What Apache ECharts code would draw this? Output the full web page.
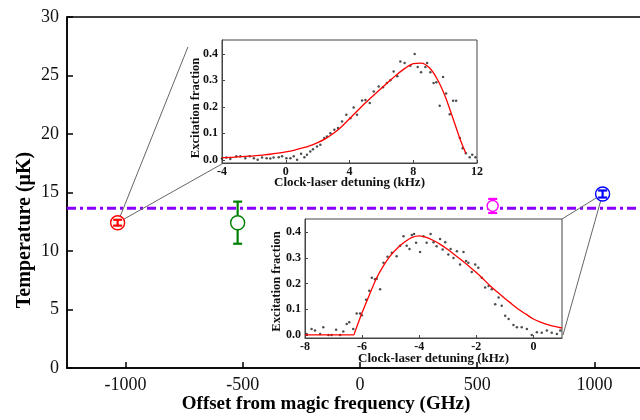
<!DOCTYPE html>
<html>
<head>
<meta charset="utf-8">
<script src="https://cdn.jsdelivr.net/npm/echarts@6/dist/echarts.min.js"></script>
<style>
  html, body { margin: 0; padding: 0; background: #fff; }
  #chart { width: 640px; height: 420px; }
</style>
</head>
<body>
<div id="chart"></div>
<script>
// main panel: temperature vs offset from magic frequency
const offsets = [-1034, -522, 566, 1035];
const temps = [12.42, 12.42, 13.85, 14.87];
const tempErrs = [0.25, 1.8, 0.6, 0.3];
const meanTemp = 13.65;
const xTickValues = [-1000, -500, 0, 500, 1000];

// ends of the zoom lines, in main-axis units
const zoomLinesA = [[-734, 27.44], [-1034, 12.42], [-589, 17.44]];
const zoomLinesB = [[862, 12.74], [1035, 14.87], [866, 2.82]];

// inset A (red point): spectrum and fit
const specAX = [-4.0, -3.73, -3.48, -3.1, -2.85, -2.54, -2.26, -2.0, -1.76, -1.49, -1.2, -0.97, -0.76, -0.44, -0.23, 0.04, 0.29, 0.5, 0.71, 0.96, 1.17, 1.33, 1.54, 1.71, 1.96, 2.17, 2.42, 2.59, 2.8, 3.05, 3.28, 3.53, 3.8, 4.05, 4.26, 4.47, 4.79, 5.0, 5.27, 5.52, 5.83, 6.1, 6.35, 6.56, 6.77, 7.0, 7.19, 7.46, 7.82, 8.09, 8.28, 8.49, 8.76, 8.87, 9.07, 9.28, 9.45, 9.66, 9.87, 10.06, 10.29, 10.5, 10.69, 10.92, 11.1, 11.3, 11.54, 11.7, 11.9];
const specAY = [0.005, 0.009, 0.003, 0.013, 0.013, 0.006, 0.013, 0.006, 0.0, 0.009, 0.006, 0.005, 0.009, 0.01, 0.013, 0.006, 0.006, 0.013, 0.0, 0.023, 0.01, 0.019, 0.031, 0.04, 0.05, 0.057, 0.082, 0.088, 0.1, 0.113, 0.12, 0.145, 0.17, 0.157, 0.197, 0.17, 0.224, 0.226, 0.214, 0.258, 0.277, 0.274, 0.29, 0.3, 0.333, 0.315, 0.371, 0.365, 0.355, 0.399, 0.35, 0.33, 0.35, 0.365, 0.33, 0.29, 0.293, 0.204, 0.312, 0.25, 0.172, 0.223, 0.223, 0.082, 0.044, 0.025, 0.01, 0.019, 0.01];
const fitAX = [-4, -3.5, -3, -2.5, -2, -1.5, -1, -0.5, 0, 0.5, 1, 1.5, 2, 2.5, 3, 3.5, 4, 4.5, 5, 5.5, 6, 6.5, 7, 7.5, 8, 8.5, 9, 9.5, 10, 10.5, 11, 11.3];
const fitAY = [0.008, 0.009, 0.011, 0.013, 0.015, 0.018, 0.021, 0.025, 0.03, 0.036, 0.044, 0.053, 0.065, 0.08, 0.1, 0.125, 0.155, 0.185, 0.215, 0.243, 0.27, 0.297, 0.323, 0.346, 0.363, 0.365, 0.348, 0.305, 0.24, 0.155, 0.068, 0.025];

// inset B (blue point): spectrum and fit
const specBX = [-7.94, -7.77, -7.65, -7.47, -7.36, -7.18, -7.07, -6.91, -6.77, -6.66, -6.54, -6.45, -6.31, -6.19, -6.07, -6.01, -5.86, -5.75, -5.66, -5.55, -5.49, -5.37, -5.25, -5.11, -4.96, -4.79, -4.67, -4.55, -4.44, -4.34, -4.26, -4.18, -4.11, -3.97, -3.85, -3.74, -3.6, -3.5, -3.39, -3.27, -3.18, -3.09, -2.98, -2.9, -2.8, -2.68, -2.57, -2.45, -2.36, -2.28, -2.16, -2.04, -1.93, -1.81, -1.69, -1.57, -1.46, -1.34, -1.22, -1.11, -0.99, -0.87, -0.7, -0.58, -0.41, -0.23, -0.06, 0.12, 0.29, 0.47, 0.64, 0.82, 0.94];
const specBY = [0.004, 0.023, 0.017, 0.004, 0.03, 0.0, 0.0, 0.02, 0.0, 0.013, 0.043, 0.049, 0.023, 0.084, 0.084, 0.077, 0.137, 0.172, 0.223, 0.217, 0.219, 0.178, 0.281, 0.305, 0.32, 0.307, 0.348, 0.385, 0.348, 0.335, 0.39, 0.394, 0.359, 0.323, 0.385, 0.359, 0.394, 0.361, 0.346, 0.374, 0.333, 0.361, 0.314, 0.335, 0.3, 0.326, 0.275, 0.323, 0.288, 0.281, 0.245, 0.275, 0.262, 0.223, 0.185, 0.191, 0.178, 0.12, 0.146, 0.114, 0.075, 0.062, 0.039, 0.03, 0.03, 0.023, 0.0, 0.01, 0.008, 0.017, 0.008, 0.004, 0.017];
const fitBX = [-8, -7.5, -7, -6.5, -6.3, -6.25, -6.0, -5.75, -5.5, -5.25, -5.0, -4.75, -4.5, -4.25, -4.0, -3.75, -3.5, -3.25, -3.0, -2.75, -2.5, -2.25, -2.0, -1.75, -1.5, -1.25, -1.0, -0.75, -0.5, -0.25, 0, 0.25, 0.5, 0.75, 1.0];
const fitBY = [0, 0, 0, 0, 0, 0.012, 0.087, 0.155, 0.22, 0.27, 0.31, 0.34, 0.363, 0.38, 0.386, 0.38, 0.368, 0.352, 0.333, 0.312, 0.29, 0.267, 0.243, 0.217, 0.19, 0.166, 0.142, 0.12, 0.098, 0.08, 0.062, 0.05, 0.04, 0.033, 0.027];
const fracTicks = [0, 0.1, 0.2, 0.3, 0.4];
const detuneTicksA = [-4, 0, 4, 8, 12];
const detuneTicksB = [-8, -6, -4, -2, 0];

// marker looks for the four points
const markerColors = ['#ff0000', '#008000', '#ff00ff', '#0000ff'];
const markerRadius = [7, 7, 5.5, 7];

const SERIF = '"Liberation Serif", "DejaVu Serif", serif';
const zip = (xs, ys) => xs.map((x, i) => [x, ys[i]]);

const chart = echarts.init(document.getElementById('chart'));

function renderPoint(params, api) {
  const i = params.dataIndex;
  const x = api.value(0), y = api.value(1), e = api.value(2);
  const c = api.coord([x, y]);
  const top = api.coord([x, y + e])[1];
  const bot = api.coord([x, y - e])[1];
  const r = markerRadius[i];
  const col = markerColors[i];
  const cap = 4.5;
  const lw = 2.2;
  const kids = [{
    type: 'circle',
    shape: { cx: c[0], cy: c[1], r: r },
    style: { fill: '#fff', stroke: col, lineWidth: 1.4 }
  }];
  if (c[1] - top < r) {
    kids.push({ type: 'line', shape: { x1: c[0], y1: top, x2: c[0], y2: bot }, style: { stroke: col, lineWidth: lw } });
  } else {
    kids.push({ type: 'line', shape: { x1: c[0], y1: top, x2: c[0], y2: c[1] - r }, style: { stroke: col, lineWidth: lw } });
    kids.push({ type: 'line', shape: { x1: c[0], y1: c[1] + r, x2: c[0], y2: bot }, style: { stroke: col, lineWidth: lw } });
  }
  kids.push({ type: 'line', shape: { x1: c[0] - cap, y1: top, x2: c[0] + cap, y2: top }, style: { stroke: col, lineWidth: lw } });
  kids.push({ type: 'line', shape: { x1: c[0] - cap, y1: bot, x2: c[0] + cap, y2: bot }, style: { stroke: col, lineWidth: lw } });
  return { type: 'group', children: kids };
}

function insetX(gridIndex, min, max, ticks, nameGap) {
  return {
    type: 'value', gridIndex, min, max,
    name: 'Clock-laser detuning (kHz)', nameLocation: 'middle', nameGap,
    nameMoveOverlap: false,
    nameTextStyle: { fontFamily: SERIF, fontWeight: 'bold', fontSize: 13, color: '#111' },
    axisLine: { show: true, onZero: false, lineStyle: { color: '#444', width: 1 } },
    axisTick: { show: true, inside: true, length: 3, customValues: ticks, lineStyle: { color: '#444' } },
    axisLabel: { fontFamily: SERIF, fontWeight: 'bold', fontSize: 12, color: '#111', margin: 3, customValues: ticks },
    splitLine: { show: false }
  };
}

function insetY(gridIndex, nameGap, shift) {
  return {
    type: 'value', gridIndex, min: -0.012, max: 0.452,
    name: 'Excitation fraction', nameLocation: 'middle', nameGap,
    nameMoveOverlap: false,
    nameTextStyle: { fontFamily: SERIF, fontWeight: 'bold', fontSize: 12.5, color: '#111', padding: [0, shift, 0, 0] },
    axisLine: { show: true, onZero: false, lineStyle: { color: '#444', width: 1 } },
    axisTick: { show: true, inside: true, length: 3, customValues: fracTicks, lineStyle: { color: '#444' } },
    axisLabel: { fontFamily: SERIF, fontWeight: 'bold', fontSize: 12, color: '#111', margin: 4,
      customValues: fracTicks, formatter: v => v.toFixed(1) },
    splitLine: { show: false }
  };
}

const option = {
  animation: false,
  backgroundColor: '#fff',
  grid: [
    { left: 67, top: 17, right: -13, bottom: 52, show: true, borderColor: '#000', borderWidth: 1.5, outerBoundsMode: 'none' },
    { left: 222, top: 40, width: 255, height: 123, show: true, borderColor: '#444', borderWidth: 1, backgroundColor: '#fff', outerBoundsMode: 'none' },
    { left: 305, top: 219, width: 257, height: 119, show: true, borderColor: '#444', borderWidth: 1, backgroundColor: '#fff', outerBoundsMode: 'none' }
  ],
  xAxis: [
    {
      type: 'value', gridIndex: 0, min: -1250, max: 1250,
      name: 'Offset from magic frequency (GHz)', nameLocation: 'middle', nameGap: 27,
      nameMoveOverlap: false,
      nameTextStyle: { fontFamily: SERIF, fontWeight: 'bold', fontSize: 19, color: '#000', padding: [0, 68, 0, 0] },
      axisLine: { show: true, onZero: false, lineStyle: { color: '#000', width: 1.5 } },
      axisTick: { show: true, inside: true, length: 6, customValues: xTickValues, lineStyle: { color: '#000', width: 1.5 } },
      axisLabel: { fontFamily: SERIF, fontSize: 18, color: '#111', margin: 8, customValues: xTickValues,
        formatter: v => String(v) },
      splitLine: { show: false }
    },
    insetX(1, -4, 12, detuneTicksA, 13),
    insetX(2, -8, 1, detuneTicksB, 14)
  ],
  yAxis: [
    {
      type: 'value', gridIndex: 0, min: 0, max: 30, interval: 5,
      name: 'Temperature (\u03bcK)', nameLocation: 'middle', nameGap: 32,
      nameMoveOverlap: false,
      nameTextStyle: { fontFamily: SERIF, fontWeight: 'bold', fontSize: 20, color: '#000', padding: [0, 75, 0, 0] },
      axisLine: { show: true, onZero: false, lineStyle: { color: '#000', width: 1.5 } },
      axisTick: { show: true, inside: true, length: 6, lineStyle: { color: '#000', width: 1.5 } },
      axisLabel: { fontFamily: SERIF, fontSize: 18, color: '#111', margin: 8 },
      splitLine: { show: false }
    },
    insetY(1, 20, 13),
    insetY(2, 22, 6)
  ],
  series: [
    {
      type: 'line', xAxisIndex: 0, yAxisIndex: 0,
      data: [[-1250, meanTemp], [1250, meanTemp]],
      symbol: 'none', silent: true, z: 2,
      lineStyle: { color: '#8a00ff', width: 3, type: [9, 4, 3, 4] }
    },
    {
      type: 'line', xAxisIndex: 0, yAxisIndex: 0, data: zoomLinesA,
      symbol: 'none', silent: true, z: 3,
      lineStyle: { color: '#666', width: 1 }
    },
    {
      type: 'line', xAxisIndex: 0, yAxisIndex: 0, data: zoomLinesB,
      symbol: 'none', silent: true, z: 3,
      lineStyle: { color: '#666', width: 1 }
    },
    {
      type: 'custom', xAxisIndex: 0, yAxisIndex: 0, z: 5,
      data: offsets.map((x, i) => [x, temps[i], tempErrs[i]]),
      renderItem: renderPoint
    },
    {
      type: 'scatter', xAxisIndex: 1, yAxisIndex: 1, data: zip(specAX, specAY),
      symbolSize: 2.5, itemStyle: { color: '#222' }
    },
    {
      type: 'line', xAxisIndex: 1, yAxisIndex: 1, data: zip(fitAX, fitAY),
      symbol: 'none', smooth: 0.3,
      lineStyle: { color: '#ff0000', width: 1.3 }
    },
    {
      type: 'scatter', xAxisIndex: 2, yAxisIndex: 2, data: zip(specBX, specBY),
      symbolSize: 2.5, itemStyle: { color: '#222' }
    },
    {
      type: 'line', xAxisIndex: 2, yAxisIndex: 2, data: zip(fitBX, fitBY),
      symbol: 'none', smooth: 0.3,
      lineStyle: { color: '#ff0000', width: 1.3 }
    }
  ]
};

chart.setOption(option);
</script>
</body>
</html>
